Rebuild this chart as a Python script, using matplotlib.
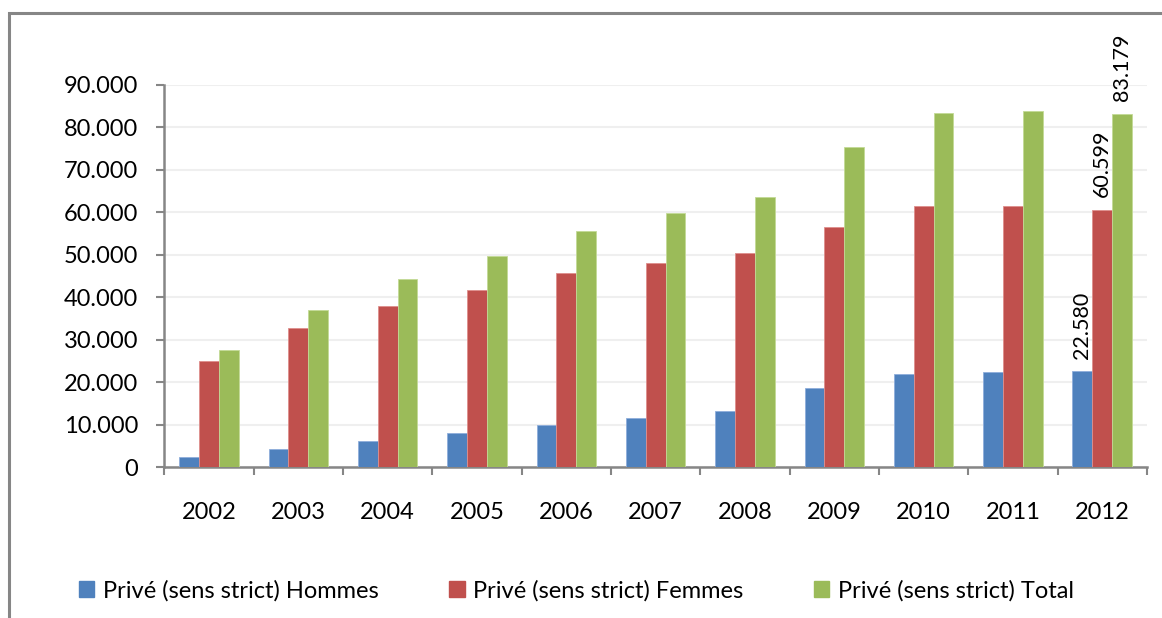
import matplotlib.pyplot as plt
import numpy as np
from matplotlib.patches import Rectangle
from matplotlib.ticker import FuncFormatter, MultipleLocator

plt.rcParams['font.family'] = ['Lato', 'DejaVu Sans']

# values
years = ['2002', '2003', '2004', '2005', '2006', '2007', '2008', '2009', '2010', '2011', '2012']
hommes = [2400, 4300, 6100, 8000, 9800, 11600, 13300, 18600, 22000, 22350, 22580]
femmes = [25000, 32700, 38000, 41700, 45600, 48100, 50400, 56600, 61400, 61500, 60599]
total = [27500, 37100, 44200, 49700, 55600, 59800, 63700, 75400, 83300, 83800, 83179]

series_names = ['Privé (sens strict) Hommes', 'Privé (sens strict) Femmes', 'Privé (sens strict) Total']
colors = ['#4F81BD', '#C0504D', '#9BBB59']
edges = ['#8FAEDB', '#DE8F8C', '#C3DA96']

fs = 17
grey = '#868686'

fig = plt.figure(figsize=(11.62, 6.18), dpi=100)
ax = fig.add_axes([0.1415, 0.2443, 0.8455, 0.6182])

x = np.arange(len(years))
w = 0.222
for i, vals in enumerate([hommes, femmes, total]):
    ax.bar(x + (i - 1) * w, vals, width=w, color=colors[i], edgecolor=edges[i],
           linewidth=0.6, label=series_names[i], zorder=3)

# data labels only on the last year
for i, vals in enumerate([hommes, femmes, total]):
    v = vals[-1]
    txt = '{:,}'.format(v).replace(',', '.')
    ax.annotate(txt, (x[-1] + (i - 1) * w, v), xytext=(0, 9), textcoords='offset points',
                rotation=90, ha='center', va='bottom', fontsize=15.5, color='black')

ax.set_xlim(-0.5, len(years) - 0.5)
ax.set_ylim(0, 90000)
ax.yaxis.set_major_locator(MultipleLocator(10000))
ax.yaxis.set_major_formatter(FuncFormatter(lambda v, p: '{:,.0f}'.format(v).replace(',', '.')))
ax.grid(axis='y', color='#EFEFEF', linewidth=1.5, zorder=0)
ax.set_axisbelow(True)

ax.set_xticks(x)
ax.set_xticklabels(years)
ax.set_xticks(np.arange(len(years) + 1) - 0.5, minor=True)
ax.tick_params(axis='x', which='major', length=0, pad=25, labelsize=fs)
ax.tick_params(axis='x', which='minor', length=6, width=1.5, color=grey)
ax.tick_params(axis='y', length=6, width=1.5, color=grey, pad=13, labelsize=fs)

for s in ['top', 'right']:
    ax.spines[s].set_visible(False)
for s in ['left', 'bottom']:
    ax.spines[s].set_color(grey)
    ax.spines[s].set_linewidth(1.8)

# outer chart frame, cut off on the right and bottom
fig.add_artist(Rectangle((9 / 1162, -0.1), 1.2, 1 - 13 / 618 + 0.1, transform=fig.transFigure,
                         fill=False, edgecolor=grey, linewidth=2.2, clip_on=False))

handles = [Rectangle((0, 0), 1, 1, color=c) for c in colors]
fig.legend(handles, series_names, loc='center', bbox_to_anchor=(0.496, 0.0445), ncol=3,
           frameon=False, fontsize=fs, handlelength=0.65, handleheight=0.65,
           handletextpad=0.35, columnspacing=3.0)

fig.savefig('out.png', dpi=100)
